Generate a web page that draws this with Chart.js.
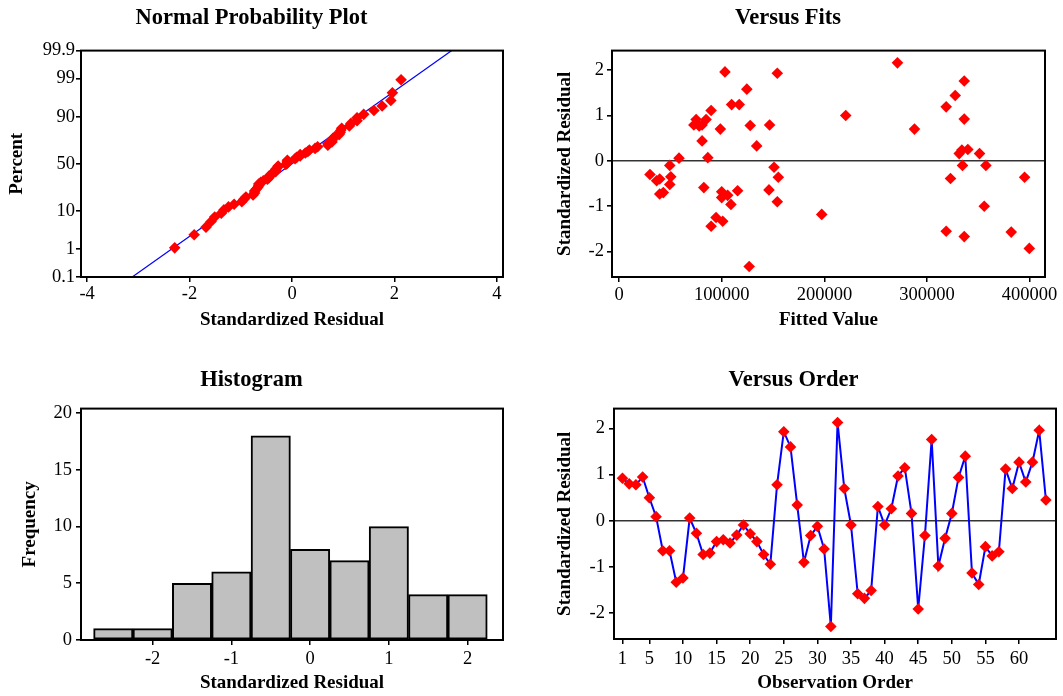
<!DOCTYPE html>
<html><head><meta charset="utf-8">
<script src="https://cdn.jsdelivr.net/npm/chart.js@4.4.0/dist/chart.umd.min.js"></script>
<style>
html,body{margin:0;padding:0;background:#fff;}
body{width:1063px;height:696px;position:relative;overflow:hidden;}
canvas{position:absolute;}
</style></head><body>
<canvas id="c1" style="left:0;top:0" width="531" height="345"></canvas>
<canvas id="c2" style="left:531px;top:0" width="532" height="345"></canvas>
<canvas id="c3" style="left:0;top:345px" width="531" height="351"></canvas>
<canvas id="c4" style="left:531px;top:345px" width="532" height="351"></canvas>
<script>
// ---------- data ----------
const residuals = [0.92,0.80,0.78,0.95,0.50,0.09,-0.65,-0.65,-1.33,-1.24,0.06,-0.27,-0.73,-0.70,-0.45,-0.41,
  -0.48,-0.31,-0.09,-0.28,-0.45,-0.73,-0.94,0.78,1.93,1.60,0.34,-0.90,-0.32,-0.12,-0.61,-2.29,
  2.13,0.70,-0.09,-1.58,-1.68,-1.51,0.31,-0.09,0.26,0.97,1.15,0.16,-1.91,-0.32,1.76,-0.98,
  -0.38,0.16,0.94,1.40,-1.13,-1.38,-0.56,-0.76,-0.67,1.12,0.70,1.27,0.84,1.27,1.96,0.45];

const fittedValues = [30000,36500,39500,39500,43000,49300,50300,49300,58300,72800,75000,78000,80800,84700,80800,82500,
  86400,89600,89600,94400,98600,100900,99900,99900,103100,105700,108900,109600,117000,115400,124400,126700,
  127700,134000,146600,146000,150900,154100,155100,154100,
  197400,220800,271200,287800,318700,318700,322900,327500,331400,334000,334600,336300,336300,336300,
  339800,351200,357400,355800,382100,395100,399700];
const fitResiduals = [-0.30,-0.44,-0.40,-0.73,-0.70,-0.10,-0.35,-0.52,0.06,0.79,0.91,0.77,0.79,0.91,0.44,-0.59,
  0.07,1.11,-1.44,-1.25,0.70,-1.33,-0.68,-0.81,1.96,-0.76,-0.96,1.24,1.24,-0.66,1.58,-2.33,
  0.78,0.33,0.79,-0.64,-0.14,1.93,-0.36,-0.90,
  -1.18,1.00,2.16,0.70,1.19,-1.55,-0.39,1.44,0.16,0.24,-0.10,1.76,0.92,-1.67,
  0.25,0.16,-0.10,-1.00,-1.57,-0.36,-1.93];

const binCenters = [-2.5,-2,-1.5,-1,-0.5,0,0.5,1,1.5,2];
const histCounts = [1,1,5,6,18,8,7,10,4,4];

const fitLineX = [-3.12, 3.12];
const fitLinePct = [0.1, 99.9];

const probTickPercents = [0.1,1,10,50,90,99,99.9];
const probTickLabels = ['0.1','1','10','50','90','99','99.9'];
const normXTicks = [-4,-2,0,2,4];
const fitsXTicks = [0,100000,200000,300000,400000];
const residTicks = [-2,-1,0,1,2];
const orderXTicks = [1,5,10,15,20,25,30,35,40,45,50,55,60];
const histXTicks = [-2,-1,0,1,2];
const histYTicks = [0,5,10,15,20];

// ---------- helpers ----------
function invNorm(p){
  const a=[-3.969683028665376e+01,2.209460984245205e+02,-2.759285104469687e+02,1.383577518672690e+02,-3.066479806614716e+01,2.506628277459239e+00];
  const b=[-5.447609879822406e+01,1.615858368580409e+02,-1.556989798598866e+02,6.680131188771972e+01,-1.328068155288572e+01];
  const c=[-7.784894002430293e-03,-3.223964580411365e-01,-2.400758277161838e+00,-2.549732539343734e+00,4.374664141464968e+00,2.938163982698783e+00];
  const d=[7.784695709041462e-03,3.224671290700398e-01,2.445134137142996e+00,3.754408661907416e+00];
  const pl=0.02425, ph=1-pl; let q,r;
  if(p<pl){q=Math.sqrt(-2*Math.log(p));return (((((c[0]*q+c[1])*q+c[2])*q+c[3])*q+c[4])*q+c[5])/((((d[0]*q+d[1])*q+d[2])*q+d[3])*q+1);}
  if(p<=ph){q=p-0.5;r=q*q;return (((((a[0]*r+a[1])*r+a[2])*r+a[3])*r+a[4])*r+a[5])*q/(((((b[0]*r+b[1])*r+b[2])*r+b[3])*r+b[4])*r+1);}
  q=Math.sqrt(-2*Math.log(1-p));return -(((((c[0]*q+c[1])*q+c[2])*q+c[3])*q+c[4])*q+c[5])/((((d[0]*q+d[1])*q+d[2])*q+d[3])*q+1);
}

Chart.defaults.font.family = '"Liberation Serif", "Times New Roman", serif';
Chart.defaults.color = '#000';
Chart.defaults.animation = false;
Chart.defaults.plugins.legend.display = false;
Chart.defaults.plugins.tooltip.enabled = false;

const RED = '#ff0000', BLUE = '#0000ff';
const TICK_FONT = {size: 18.5};
const LABEL_FONT = {size: 19, weight: 'bold'};

const framePlugin = {
  id: 'frame',
  afterDatasetsDraw(chart){
    const {ctx, chartArea: a} = chart;
    ctx.save(); ctx.strokeStyle = '#000'; ctx.lineWidth = 2;
    ctx.strokeRect(a.left, a.top, a.right - a.left, a.bottom - a.top);
    ctx.restore();
  }
};

function titleOpt(text, top, bottom){
  return {display: true, text, color: '#000', font: {size: 22.5, weight: 'bold'}, padding: {top, bottom}};
}
function xScale(o){
  return {
    type: 'linear', min: o.min, max: o.max, offset: false,
    afterBuildTicks: s => { s.ticks = o.ticks.map(v => ({value: v})); },
    afterFit: s => { s.height = o.h; },
    ticks: {font: TICK_FONT, color: '#000', padding: o.pad, maxRotation: 0, autoSkip: false,
            callback: o.cb || (v => String(v))},
    grid: {drawOnChartArea: false, drawTicks: true, tickLength: 5, color: '#000', tickColor: '#000', lineWidth: 1.5, offset: false},
    border: {display: false},
    title: {display: true, text: o.title, font: LABEL_FONT, color: '#000', padding: {top: 0, bottom: o.tpad}}
  };
}
function yScale(o){
  return {
    type: 'linear', min: o.min, max: o.max,
    afterBuildTicks: s => { s.ticks = o.ticks.map(v => ({value: v})); },
    afterFit: s => { s.width = o.w; },
    ticks: {font: TICK_FONT, color: '#000', padding: o.pad, autoSkip: false,
            callback: o.cb || (v => String(v))},
    grid: {drawOnChartArea: !!o.zero, drawTicks: true, tickLength: 5, tickColor: '#000', lineWidth: 1.6,
           color: o.zero ? (ctx => (ctx.tick && ctx.tick.value === 0) ? '#333333' : 'rgba(0,0,0,0)') : '#000'},
    border: {display: false},
    title: {display: true, text: o.title, font: LABEL_FONT, color: '#000', padding: {top: o.tpad, bottom: 0}}
  };
}

// ---------- 1. Normal probability plot ----------
const sorted = residuals.slice().sort((p, q) => p - q);
const nRes = sorted.length;
const probPoints = sorted.map((v, i) => ({x: v, y: invNorm((i + 1 - 0.3) / (nRes + 0.4))}));
const zMin = invNorm(0.001), zMax = invNorm(0.999);

new Chart(document.getElementById('c1'), {
  type: 'scatter',
  data: {datasets: [
    {type: 'line', data: fitLineX.map((x, i) => ({x, y: invNorm(fitLinePct[i] / 100)})),
     borderColor: BLUE, borderWidth: 1.2, pointRadius: 0, fill: false, order: 2},
    {data: probPoints, pointStyle: 'rectRot', pointRadius: 5.8, backgroundColor: RED, borderWidth: 0, order: 1}
  ]},
  options: {
    responsive: false,
    layout: {padding: {left: 0, right: 28, top: 0, bottom: 0}},
    plugins: {title: titleOpt('Normal Probability Plot', 4.8, 18.8)},
    scales: {
      x: xScale({min: -4.12, max: 4.12, ticks: normXTicks, h: 68, pad: 1, title: 'Standardized Residual', tpad: 13.6}),
      y: yScale({min: zMin, max: zMax, ticks: probTickPercents.map(p => invNorm(p / 100)), w: 81, pad: 1,
                 cb: (v, i) => probTickLabels[i], title: 'Percent', tpad: 6})
    }
  },
  plugins: [framePlugin]
});

// ---------- 2. Versus fits ----------
new Chart(document.getElementById('c2'), {
  type: 'scatter',
  data: {datasets: [
    {data: fittedValues.map((x, i) => ({x, y: fitResiduals[i]})), pointStyle: 'rectRot', pointRadius: 5.8,
     backgroundColor: RED, borderWidth: 0}
  ]},
  options: {
    responsive: false,
    layout: {padding: {left: 0, right: 18, top: 0, bottom: 0}},
    plugins: {title: titleOpt('Versus Fits', 4.8, 18.8)},
    scales: {
      x: xScale({min: -7000, max: 415000, ticks: fitsXTicks, h: 68, pad: 2, title: 'Fitted Value', tpad: 13.6}),
      y: yScale({min: -2.56, max: 2.43, ticks: residTicks, w: 81, pad: 3, zero: true, title: 'Standardized Residual', tpad: 22.6})
    }
  },
  plugins: [framePlugin]
});

// ---------- 3. Histogram ----------
new Chart(document.getElementById('c3'), {
  type: 'bar',
  data: {datasets: [
    {data: binCenters.map((x, i) => ({x, y: histCounts[i]})), backgroundColor: '#c0c0c0', borderColor: '#000',
     borderWidth: 2, borderSkipped: false, barPercentage: 1, categoryPercentage: 1, grouped: false}
  ]},
  options: {
    responsive: false,
    layout: {padding: {left: 0, right: 28, top: 0, bottom: 0}},
    plugins: {title: titleOpt('Histogram', 21.8, 14.8)},
    scales: {
      x: xScale({min: -2.91, max: 2.45, ticks: histXTicks, h: 56, pad: 3, title: 'Standardized Residual', tpad: 1.6}),
      y: yScale({min: 0, max: 20.4, ticks: histYTicks, w: 81, pad: 4, title: 'Frequency', tpad: 18.6})
    }
  },
  plugins: [framePlugin]
});

// ---------- 4. Versus order ----------
new Chart(document.getElementById('c4'), {
  type: 'line',
  data: {datasets: [
    {data: residuals.map((v, i) => ({x: i + 1, y: v})), borderColor: BLUE, borderWidth: 2, tension: 0,
     pointStyle: 'rectRot', pointRadius: 5.8, pointBackgroundColor: RED, pointBorderWidth: 0, fill: false}
  ]},
  options: {
    responsive: false,
    layout: {padding: {left: 0, right: 7, top: 0, bottom: 0}},
    plugins: {title: titleOpt('Versus Order', 21.8, 14.8)},
    scales: {
      x: xScale({min: -0.26, max: 65.5, ticks: orderXTicks, h: 57, pad: 4, title: 'Observation Order', tpad: 1.6}),
      y: yScale({min: -2.56, max: 2.43, ticks: residTicks, w: 83, pad: 4, zero: true, title: 'Standardized Residual', tpad: 22.6})
    }
  },
  plugins: [framePlugin]
});
</script>
</body></html>
